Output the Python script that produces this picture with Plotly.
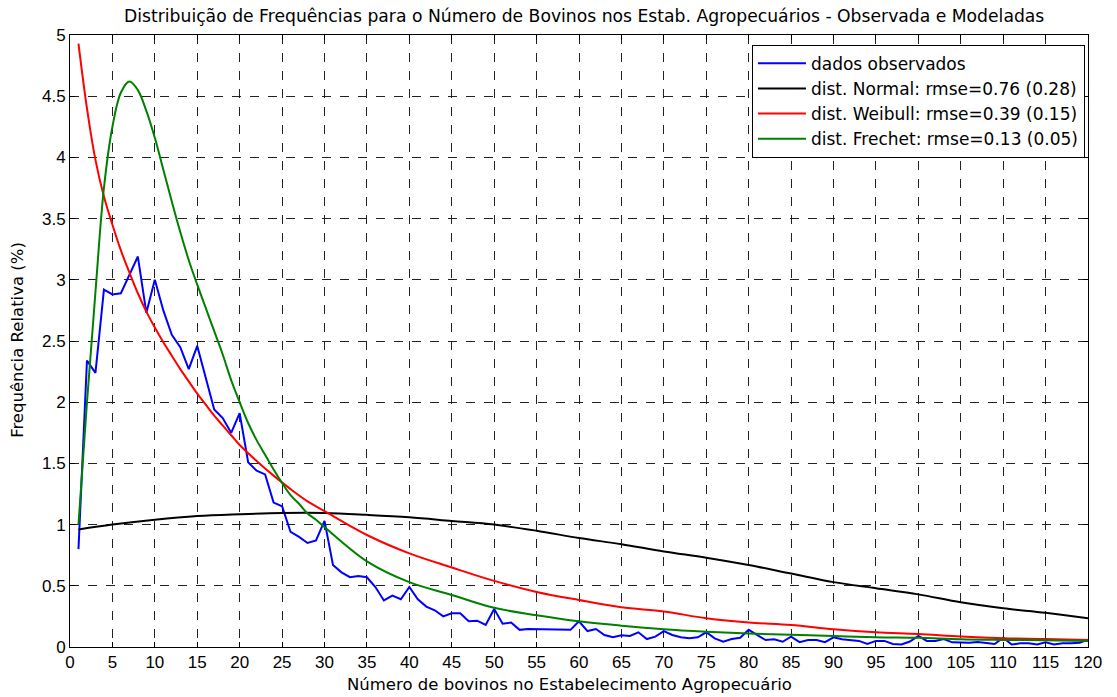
import plotly.graph_objects as go

# ---- data ----
obs_x = list(range(1, 121))
obs_y = [0.80, 2.34, 2.24, 2.92, 2.88, 2.89, 3.04, 3.19, 2.73, 3.00,
         2.75, 2.55, 2.45, 2.27, 2.46, 2.20, 1.94, 1.87, 1.75, 1.91,
         1.51, 1.44, 1.41, 1.18, 1.15, 0.94, 0.90, 0.85, 0.87, 1.03,
         0.67, 0.61, 0.57, 0.58, 0.57, 0.49, 0.38, 0.42, 0.39, 0.49,
         0.39, 0.33, 0.30, 0.25, 0.275, 0.275, 0.21, 0.215, 0.18, 0.31,
         0.19, 0.20, 0.14, 0.147, 0.145, 0.14, 0.14, 0.14, 0.14, 0.21,
         0.13, 0.147, 0.098, 0.079, 0.095, 0.09, 0.12, 0.065, 0.085, 0.13,
         0.098, 0.079, 0.071, 0.079, 0.12, 0.07, 0.043, 0.065, 0.075, 0.14,
         0.098, 0.057, 0.063, 0.043, 0.085, 0.04, 0.057, 0.057, 0.04, 0.079,
         0.063, 0.057, 0.05, 0.025, 0.05, 0.05, 0.025, 0.02, 0.045, 0.09,
         0.05, 0.05, 0.065, 0.038, 0.035, 0.035, 0.04, 0.03, 0.025, 0.076,
         0.02, 0.03, 0.03, 0.02, 0.038, 0.02, 0.03, 0.03, 0.035, 0.06]

normal_x = [1, 5, 10, 15, 20, 25, 30, 35, 40, 45, 50, 55, 60, 65, 70,
            75, 80, 85, 90, 95, 100, 105, 110, 115, 120]
normal_y = [0.96, 1.00, 1.04, 1.07, 1.085, 1.095, 1.095, 1.08, 1.06, 1.03,
            1.00, 0.95, 0.89, 0.84, 0.78, 0.73, 0.67, 0.60, 0.53, 0.48,
            0.43, 0.365, 0.316, 0.28, 0.234]

weibull_x = [1, 2, 3, 4, 5, 6, 7, 8, 9, 10, 11, 12, 13, 14, 15, 16, 17, 18,
             19, 20, 22, 24, 26, 28, 30, 35, 40, 45, 50, 55, 60, 65, 70,
             75, 80, 85, 90, 95, 100, 105, 110, 115, 120]
weibull_y = [4.93, 4.40, 3.98, 3.68, 3.45, 3.24, 3.06, 2.89, 2.74, 2.61,
             2.49, 2.38, 2.27, 2.17, 2.07, 1.98, 1.89, 1.81, 1.73, 1.65,
             1.52, 1.40, 1.29, 1.19, 1.11, 0.915, 0.765, 0.65, 0.54, 0.45,
             0.384, 0.325, 0.29, 0.235, 0.20, 0.18, 0.145, 0.12, 0.106,
             0.085, 0.071, 0.065, 0.057]

frechet_x = [1, 2, 3, 4, 5, 6, 7, 8, 9, 10, 11, 12, 13, 14, 15, 16, 17, 18,
             19, 20, 21, 22, 23, 24, 25, 26, 27, 28, 29, 30, 35, 40, 45, 50,
             55, 60, 65, 70, 75, 80, 85, 90, 95, 100, 105, 110, 115, 120]
frechet_y = [1.00, 2.00, 2.90, 3.75, 4.25, 4.53, 4.62, 4.55, 4.38, 4.16,
             3.90, 3.64, 3.39, 3.16, 2.96, 2.77, 2.58, 2.39, 2.18, 2.00,
             1.83, 1.69, 1.57, 1.45, 1.34, 1.24, 1.17, 1.09, 1.04, 0.98,
             0.70, 0.53, 0.425, 0.32, 0.26, 0.21, 0.174, 0.145, 0.125, 0.11,
             0.10, 0.09, 0.08, 0.075, 0.063, 0.058, 0.055, 0.05]

x_ticks = list(range(0, 121, 5))
y_ticks = [0, 0.5, 1, 1.5, 2, 2.5, 3, 3.5, 4, 4.5, 5]
y_tick_labels = ["0", "0.5", "1", "1.5", "2", "2.5", "3", "3.5", "4", "4.5", "5"]

names = ["dados observados",
         "dist. Normal: rmse=0.76 (0.28)",
         "dist. Weibull: rmse=0.39 (0.15)",
         "dist. Frechet: rmse=0.13 (0.05)"]

title_text = ("Distribuição de Frequências para o Número de Bovinos nos Estab. "
              "Agropecuários - Observada e Modeladas")
x_title = "Número de bovinos no Estabelecimento Agropecuário"
y_title = "Frequência Relativa (%)"

FONT = "Liberation Sans, Arial, sans-serif"
WIDE = "DejaVu Sans, sans-serif"

fig = go.Figure()
fig.add_trace(go.Scatter(x=obs_x, y=obs_y, mode="lines", name=names[0],
                         line=dict(color="#0000FF", width=2)))
fig.add_trace(go.Scatter(x=normal_x, y=normal_y, mode="lines", name=names[1],
                         line=dict(color="#000000", width=2, shape="spline")))
fig.add_trace(go.Scatter(x=weibull_x, y=weibull_y, mode="lines", name=names[2],
                         line=dict(color="#FF0000", width=2, shape="spline")))
fig.add_trace(go.Scatter(x=frechet_x, y=frechet_y, mode="lines", name=names[3],
                         line=dict(color="#008000", width=2, shape="spline")))

axis_common = dict(
    showline=True, linecolor="black", linewidth=1, mirror="allticks",
    ticks="inside", ticklen=5, tickcolor="black",
    showgrid=True, gridcolor="#222222", gridwidth=1, griddash="dash",
    zeroline=False, automargin=False,
    tickfont=dict(family=FONT, size=17, color="black"),
)

fig.update_xaxes(range=[0, 120], tickvals=x_ticks, **axis_common)
fig.update_yaxes(range=[0, 5], tickvals=y_ticks, ticktext=y_tick_labels,
                 **axis_common)

fig.add_annotation(text=x_title, xref="paper", yref="paper",
                   x=0.491, y=-0.062, xanchor="center", yanchor="middle",
                   showarrow=False,
                   font=dict(family=WIDE, size=16.5, color="black"))
fig.add_annotation(text=y_title, xref="paper", yref="paper",
                   x=-0.051, y=0.502, xanchor="center", yanchor="middle",
                   textangle=-90, showarrow=False,
                   font=dict(family=WIDE, size=16.5, color="black"))

fig.update_layout(
    width=1117, height=697,
    margin=dict(l=70, r=29, t=35, b=50),
    paper_bgcolor="white", plot_bgcolor="white",
    title=dict(text=title_text,
               font=dict(family=WIDE, size=17.2, color="black"),
               x=0.523, xanchor="center", y=0.977, yanchor="middle"),
    legend=dict(x=0.997, y=0.984, xanchor="right", yanchor="top",
                bgcolor="white", bordercolor="black", borderwidth=1,
                font=dict(family=WIDE, size=17, color="black"),
                tracegroupgap=0, itemwidth=48),
    showlegend=True,
)

fig.write_html("out.html")
